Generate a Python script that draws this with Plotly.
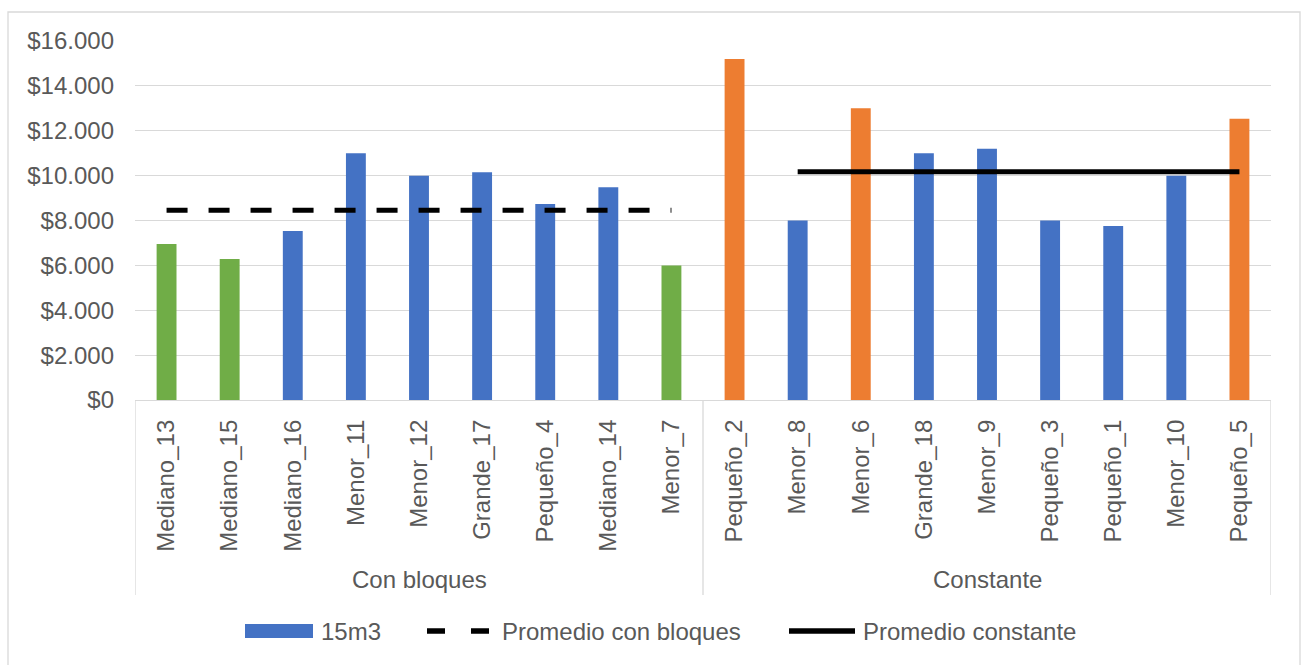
import plotly.graph_objects as go

# --- data -------------------------------------------------------------
grupo_con_bloques = ["Mediano_13", "Mediano_15", "Mediano_16", "Menor_11", "Menor_12",
                     "Grande_17", "Pequeño_4", "Mediano_14", "Menor_7"]
grupo_constante = ["Pequeño_2", "Menor_8", "Menor_6", "Grande_18", "Menor_9",
                   "Pequeño_3", "Pequeño_1", "Menor_10", "Pequeño_5"]
grupos = ["Con bloques", "Constante"]

valores_con_bloques = [6950, 6280, 7530, 11000, 10000, 10150, 8730, 9480, 6000]
valores_constante = [15200, 8000, 13000, 11000, 11200, 8000, 7750, 10000, 12530]

# average lines (blank where the series has no value)
promedio_con_bloques = [8460, 8460, 8460, 8460, 8460, 8460, 8460, 8460, 8460,
                        None, None, None, None, None, None, None, None, None]
promedio_constante = [None, None, None, None, None, None, None, None, None,
                      None, 10170, 10170, 10170, 10170, 10170, 10170, 10170, 10170]

puntos_verdes = ["Mediano_13", "Mediano_15", "Menor_7"]
puntos_naranjas = ["Pequeño_2", "Menor_6", "Pequeño_5"]

y_ticks = [0, 2000, 4000, 6000, 8000, 10000, 12000, 14000, 16000]
y_tick_labels = ["$0", "$2.000", "$4.000", "$6.000", "$8.000",
                 "$10.000", "$12.000", "$14.000", "$16.000"]

# --- styling ----------------------------------------------------------
AZUL = "#4472C4"
NARANJA = "#ED7D31"
VERDE = "#70AD47"
GRIS_TEXTO = "#595959"
GRIS_LINEA = "#D9D9D9"
FUENTE = "Liberation Sans, Arial, sans-serif"
TAM = 24

W, H = 1302, 665
ML, MR, MT, MB = 135, 31, 41, 265
PW, PH = W - ML - MR, H - MT - MB


def px_x(p):
    return (p - ML) / PW


def px_y(p):
    return (H - MB - p) / PH


categorias = grupo_con_bloques + grupo_constante
valores = valores_con_bloques + valores_constante
colores = [VERDE if c in puntos_verdes else NARANJA if c in puntos_naranjas else AZUL
           for c in categorias]

fig = go.Figure()
fig.add_trace(go.Bar(
    x=categorias, y=valores, name="15m3",
    marker=dict(color=colores, line=dict(width=0)),
    width=0.315, showlegend=False,
))
fig.add_trace(go.Scatter(
    x=categorias, y=promedio_con_bloques, mode="lines", name="Promedio con bloques",
    line=dict(color="black", width=5, dash="21px,21px"), showlegend=False,
    connectgaps=False,
))
fig.add_trace(go.Scatter(
    x=categorias, y=promedio_constante, mode="lines", name="Promedio constante",
    line=dict(color="black", width=5), showlegend=False, connectgaps=False,
))

shapes = []
# chart border
shapes.append(dict(type="rect", xref="paper", yref="paper",
                   x0=px_x(8), x1=px_x(1300), y0=px_y(680), y1=px_y(12),
                   line=dict(color=GRIS_LINEA, width=1.3), layer="below"))
# group dividers of the category axis
n1 = len(grupo_con_bloques)
for xv in [-0.5, n1 - 0.5, len(categorias) - 0.5]:
    shapes.append(dict(type="line", xref="x", yref="paper",
                       x0=xv, x1=xv, y0=0, y1=px_y(595),
                       line=dict(color=GRIS_LINEA, width=1.3)))

annotations = []
# group labels
for nombre, centro in [(grupos[0], (n1 - 1) / 2), (grupos[1], n1 + (len(grupo_constante) - 1) / 2)]:
    annotations.append(dict(text=nombre, x=centro, xref="x", y=px_y(579), yref="paper",
                            showarrow=False, xanchor="center", yanchor="middle",
                            font=dict(family=FUENTE, size=TAM, color=GRIS_TEXTO)))

# legend
ly = px_y(631)
shapes.append(dict(type="rect", xref="paper", yref="paper",
                   x0=px_x(245), x1=px_x(313), y0=px_y(638), y1=px_y(624),
                   fillcolor=AZUL, line=dict(width=0)))
shapes.append(dict(type="line", xref="paper", yref="paper",
                   x0=px_x(427), x1=px_x(489), y0=ly, y1=ly,
                   line=dict(color="black", width=5.5, dash="18px,26px")))
shapes.append(dict(type="line", xref="paper", yref="paper",
                   x0=px_x(789), x1=px_x(855), y0=ly, y1=ly,
                   line=dict(color="black", width=5.5)))
for texto, xp in [("15m3", 319), ("Promedio con bloques", 500), ("Promedio constante", 861)]:
    annotations.append(dict(text=texto, x=px_x(xp), xref="paper", y=ly, yref="paper",
                            showarrow=False, xanchor="left", yanchor="middle",
                            font=dict(family=FUENTE, size=TAM, color=GRIS_TEXTO)))

fig.update_layout(
    width=W, height=H,
    margin=dict(l=ML, r=MR, t=MT, b=MB, pad=0),
    paper_bgcolor="white", plot_bgcolor="white",
    font=dict(family=FUENTE, size=TAM, color=GRIS_TEXTO),
    shapes=shapes, annotations=annotations,
    xaxis=dict(type="category", tickangle=-90, showgrid=False,
               showline=True, linecolor=GRIS_LINEA, linewidth=1.3,
               ticks="", ticklabelstandoff=9,
               tickfont=dict(family=FUENTE, size=TAM, color=GRIS_TEXTO),
               range=[-0.5, len(categorias) - 0.5], fixedrange=True),
    yaxis=dict(range=[0, 16000], tickvals=y_ticks, ticktext=y_tick_labels,
               showgrid=True, gridcolor=GRIS_LINEA, gridwidth=1.3,
               zeroline=False, showline=False, ticks="",
               ticklabelstandoff=20,
               tickfont=dict(family=FUENTE, size=TAM, color=GRIS_TEXTO)),
)

fig.write_html("out.html")
